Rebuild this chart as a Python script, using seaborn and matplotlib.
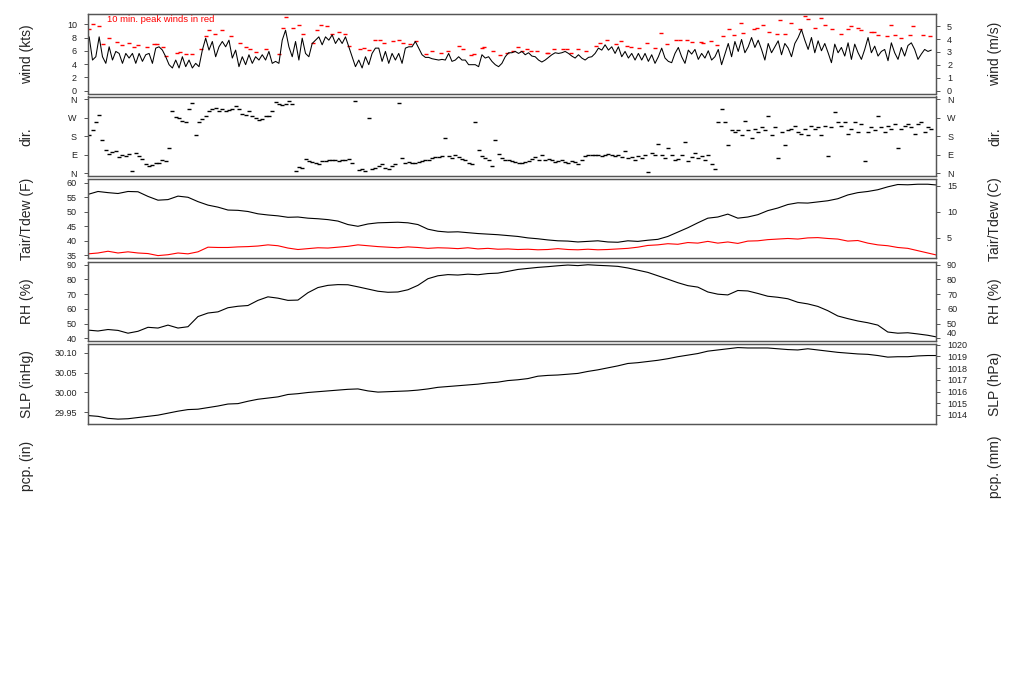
import numpy as np
import matplotlib
matplotlib.use("Agg")
from matplotlib import pyplot as plt
import seaborn as sns

sns.set_theme(style="white")
plt.rcParams["font.family"] = ["Liberation Sans", "DejaVu Sans"]

##############################################
# values, time in hours from start of record

wind_kts = [
    8.1, 4.6, 5.1, 8.1, 5.1, 4.1, 6.6, 4.6, 5.9, 5.6,
    4.1, 5.6, 4.9, 5.6, 4.1, 5.6, 4.4, 5.4, 5.6, 4.1,
    6.4, 6.6, 6.1, 5.1, 3.9, 3.4, 4.6, 3.4, 5.1, 3.6,
    4.6, 3.4, 4.1, 3.6, 6.1, 7.9, 6.1, 7.4, 5.1, 6.6,
    7.4, 6.6, 7.6, 4.9, 6.1, 3.6, 5.1, 3.9, 5.4, 4.1,
    5.1, 4.6, 5.4, 4.6, 5.9, 4.1, 4.4, 4.1, 7.6, 9.1,
    6.6, 5.1, 7.4, 4.6, 7.9, 5.6, 5.1, 7.1, 7.6, 8.1,
    6.9, 8.1, 7.6, 8.4, 7.1, 7.9, 7.1, 8.1, 6.6, 5.1,
    3.6, 4.6, 3.4, 5.1, 3.9, 5.6, 6.4,
    6.4, 4.4, 5.9, 4.1, 5.6, 4.6, 5.6, 4.1, 6.4, 6.6,
    6.6, 7.4, 6.4, 5.4, 5.0, 5.0, 4.8, 4.7, 4.6, 4.7,
    4.6, 5.6, 4.4, 4.6, 5.1, 4.6, 4.6, 3.9, 3.9, 3.9,
    3.6, 5.4, 4.9, 5.1, 4.4, 3.9, 3.6, 4.1, 5.1, 5.7,
    5.7, 5.9, 5.6, 5.9, 5.4, 5.7, 5.2, 5.1, 4.6, 4.3,
    4.6, 5.0, 5.4, 5.7, 5.6, 5.7, 5.9, 5.6, 5.2, 4.9,
    5.4, 4.9, 4.6, 5.0, 5.1, 5.6, 6.4, 6.1, 6.9, 6.1,
    6.6, 5.6, 6.6, 5.1, 5.9, 4.9, 5.6, 4.6, 5.6, 4.6,
    5.6, 4.4, 5.4, 4.1, 5.1,
    6.4, 4.9, 4.4, 4.2, 5.6, 6.5, 5.1, 4.1, 6.1, 5.5,
    6.2, 4.7, 5.6, 4.9, 6.0, 4.6, 5.1, 6.2, 3.9, 5.5,
    7.1, 5.1, 7.4, 5.9, 7.7, 5.7, 6.6, 8.0, 6.5, 7.6,
    6.2, 4.6, 7.1, 5.7, 6.6, 7.5, 5.4, 7.1, 6.4, 5.1,
    7.1, 8.0, 9.2, 7.6, 6.2, 8.0, 5.7, 7.5, 6.0, 7.1,
    5.7, 4.2, 7.0, 5.7, 6.5, 5.2, 7.2, 4.7, 7.0, 5.7,
    4.7, 6.2, 8.0, 5.7, 6.7, 5.2, 5.9, 6.2, 4.5, 7.2,
    5.7, 4.7, 6.5, 5.2, 6.8, 7.2, 6.2, 4.7, 5.5, 6.2,
    5.9, 6.1,
]

wind_dir = [
    188, 209, 248, 283, 161, 114, 93, 103, 109, 77,
    87, 82, 93, 11, 98, 82, 71, 43, 35, 40,
    51, 51, 62, 58, 122, 303, 272, 267, 256, 248,
    311, 343, 188, 248, 264, 280, 303, 311, 319, 303,
    311, 303, 308, 311, 330, 311, 288, 283, 303, 277,
    267, 261, 264, 280, 280, 303, 346, 340, 335, 340,
    351, 340, 11, 30, 27, 71, 58, 55, 51, 46,
    58, 58, 62, 62, 66, 58, 66, 66, 70, 51,
    351, 14, 19, 8, 267, 19, 24,
    35, 43, 27, 19, 35, 43, 343, 74, 51, 54,
    47, 51, 55, 58, 62, 66, 74, 77, 79, 82,
    169, 82, 74, 90, 77, 71, 62, 51, 43, 251,
    114, 82, 74, 66, 35, 161, 93, 74, 66, 62,
    58, 55, 51, 51, 55, 58, 71, 77, 66, 87,
    62, 69, 62, 55, 58, 62, 55, 51, 58, 54,
    46, 65, 82, 87, 87, 87, 90, 85, 90, 93,
    90, 82, 87, 77, 109, 74, 77, 66, 82, 74,
    87, 3, 98, 90, 141,
    90, 74, 122, 87, 66, 71, 90, 153, 58, 77,
    98, 74, 82, 66, 90, 43, 19, 248, 311, 248,
    137, 209, 201, 209, 185, 256, 209, 169, 216, 201,
    224, 209, 280, 185, 224, 74, 201, 137, 209, 216,
    232, 201, 193, 216, 185, 232, 216, 224, 185, 232,
    82, 224, 299, 248, 232, 248, 193, 216, 248, 201,
    240, 58, 201, 224, 209, 280, 224, 201, 232, 216,
    240, 122, 216, 232, 240, 224, 193, 240, 248, 201,
    224, 216,
]

gust_hours = [
    0.1, 0.9, 1.8, 2.5, 3.6, 4.9, 5.8, 6.9, 7.9, 8.5,
    10.0, 11.3, 11.8, 12.7, 13.2, 15.2, 15.7, 16.6, 17.7, 19.2,
    20.0, 20.5, 21.6, 22.8, 24.3, 25.8, 26.9, 27.6, 28.5, 30.2,
    32.4, 33.2, 33.6, 34.8, 35.9, 36.6, 38.2, 38.9, 39.6, 40.6,
    41.5, 42.6, 43.7, 44.4, 46.2, 46.9, 47.7, 48.8,
    49.7, 50.3, 51.8, 52.9, 53.5, 54.8, 55.7, 57.4, 58.5, 60.1,
    61.2, 63.1, 63.7, 65.2, 65.6, 67.0, 67.4, 68.8, 70.1, 71.2,
    72.2, 73.2, 73.8, 74.6, 75.3, 76.3, 78.0, 78.3, 79.2, 80.7,
    81.5, 82.1, 83.4, 84.6, 86.3, 87.1, 88.2, 89.8, 90.7, 91.7,
    92.3, 93.7, 95.1, 96.4,
    97.4, 98.4, 100.0, 100.6, 101.8, 102.7, 104.2, 104.6, 105.9, 106.9,
    107.9, 109.0, 109.8, 111.1, 111.4, 113.3, 113.7, 114.8, 115.8, 117.1,
    117.6, 118.6, 119.5, 121.0, 122.0, 122.4, 123.6, 124.7, 125.4, 126.6,
    128.0, 129.2, 129.8, 131.0, 131.5, 133.1, 133.7, 134.4, 135.9, 136.6,
    137.3, 138.3, 139.7, 140.3, 142.0, 143.1,
]

gust_kts = [
    9.3, 10.1, 9.7, 7.0, 8.0, 7.35, 6.85, 7.1, 6.5, 6.8,
    6.5, 6.95, 6.95, 6.5, 5.2, 5.7, 5.85, 5.5, 5.5, 6.2,
    8.2, 9.2, 8.5, 9.2, 8.2, 7.1, 6.6, 6.2, 5.85, 6.2,
    5.5, 9.5, 11.1, 9.5, 9.85, 8.5, 7.1, 9.2, 9.85, 9.7,
    8.5, 8.85, 8.5, 6.7, 6.2, 6.35, 6.1, 7.6,
    7.7, 7.1, 7.45, 7.7, 7.1, 7.0, 7.5, 5.5, 5.95, 5.7,
    6.0, 6.7, 6.2, 5.35, 5.5, 6.35, 6.5, 5.95, 5.35, 5.7,
    6.0, 6.5, 6.0, 6.2, 5.95, 6.0, 5.6, 5.7, 6.2, 6.2,
    6.2, 5.7, 6.2, 6.0, 6.7, 7.2, 7.6, 6.95, 7.5, 6.7,
    6.5, 6.35, 7.1, 6.35,
    8.75, 7.0, 7.55, 7.55, 7.55, 7.25, 7.25, 7.1, 7.45, 6.85,
    8.2, 9.35, 8.45, 10.25, 8.75, 9.35, 9.5, 9.85, 8.85, 8.6,
    10.7, 8.6, 10.25, 9.35, 11.2, 10.85, 9.5, 11.0, 9.85, 9.35,
    8.6, 9.35, 9.7, 9.5, 9.2, 8.85, 8.85, 8.45, 8.2, 9.85,
    8.45, 8.0, 8.35, 9.7, 8.45, 8.2,
]

# hourly-ish series, one value every 1.7 h
tair_f = [
    56.0, 57.0, 56.6, 56.3, 57.0, 56.9, 55.3, 54.0, 54.2, 55.4,
    55.0, 53.5, 52.3, 51.6, 50.6, 50.5, 50.1, 49.3, 48.9, 48.6,
    48.1, 48.2, 47.8, 47.6, 47.3, 46.8, 45.6, 45.0, 45.8, 46.2,
    46.3, 46.4, 46.2, 45.6, 44.0, 43.3, 43.0, 43.1, 42.8, 42.5,
    42.3, 42.1, 41.8, 41.5, 41.0, 40.7, 40.3, 40.0, 39.9, 39.6,
    39.8, 40.0, 39.6, 39.5, 40.0, 39.8, 40.2, 40.5, 41.5, 43.0,
    44.5, 46.2, 47.8, 48.2, 49.2, 47.8, 48.2, 49.0, 50.4, 51.3,
    52.5, 53.1, 53.0, 53.4, 53.8, 54.5, 55.8, 56.6, 57.0, 57.6,
    58.6, 59.4, 59.3, 59.5, 59.5, 59.2,
]

tdew_f = [
    35.5, 35.8, 36.4, 35.8, 36.2, 35.8, 35.6, 34.9, 35.2, 35.8,
    35.5, 36.2, 37.8, 37.7, 37.7, 37.9, 38.0, 38.2, 38.6, 38.3,
    37.5, 37.0, 37.3, 37.6, 37.5, 37.8, 38.1, 38.6, 38.3, 38.0,
    37.8, 37.6, 37.9, 37.7, 37.4, 37.6, 37.5, 37.3, 37.6, 37.2,
    37.4, 37.1, 37.2, 37.0, 37.1, 36.9, 37.0, 37.3, 37.0, 36.9,
    37.1, 36.9, 37.0, 37.2, 37.4, 37.8, 38.4, 38.6, 39.0, 38.8,
    39.4, 39.2, 39.8, 39.2, 39.6, 39.1, 39.9, 40.0, 40.4, 40.6,
    40.8, 40.6, 41.0, 41.1, 40.8, 40.6, 39.9, 40.1, 39.2, 38.6,
    38.3, 37.7, 37.4, 36.6, 35.8, 35.0,
]

rh_pct = [
    45.6, 45.0, 46.0, 45.4, 43.5, 44.8, 47.5, 47.0, 49.0, 47.0,
    47.9, 54.8, 57.2, 58.0, 60.8, 61.8, 62.3, 65.8, 68.2, 67.3,
    65.8, 66.0, 71.0, 74.5, 76.0, 76.5, 76.4, 75.0, 73.5, 72.0,
    71.3, 71.5, 73.0, 76.0, 80.5, 82.5, 83.3, 83.0, 83.6, 83.2,
    84.0, 84.3, 85.5, 86.8, 87.5, 88.2, 88.7, 89.3, 89.8, 89.4,
    90.0, 89.6, 89.3, 88.9, 87.8, 86.3, 84.8, 82.5, 80.2, 77.8,
    75.8, 74.8, 71.5, 70.0, 69.5, 72.5, 72.2, 70.5, 68.6, 67.9,
    66.9, 64.5, 63.4, 61.7, 58.8, 55.2, 53.4, 51.8, 50.6, 49.0,
    44.3, 43.5, 43.8, 43.0, 42.1, 40.8,
]

slp_inhg = [
    29.942, 29.940, 29.935, 29.933, 29.934, 29.937, 29.940, 29.943, 29.948, 29.953,
    29.957, 29.958, 29.962, 29.966, 29.971, 29.972, 29.978, 29.983, 29.986, 29.989,
    29.995, 29.997, 30.000, 30.002, 30.004, 30.006, 30.008, 30.009, 30.004, 30.001,
    30.002, 30.003, 30.004, 30.006, 30.009, 30.013, 30.015, 30.017, 30.019, 30.021,
    30.024, 30.026, 30.030, 30.032, 30.035, 30.041, 30.043, 30.044, 30.046, 30.048,
    30.053, 30.057, 30.062, 30.067, 30.073, 30.075, 30.078, 30.081, 30.085, 30.090,
    30.094, 30.098, 30.104, 30.107, 30.110, 30.113, 30.112, 30.112, 30.112, 30.110,
    30.108, 30.107, 30.110, 30.107, 30.104, 30.101, 30.099, 30.097, 30.096, 30.093,
    30.089, 30.090, 30.090, 30.092, 30.093, 30.093,
]

dir_ticks = [0, 90, 180, 270, 360]
dir_labels = ["N", "E", "S", "W", "N"]

##############################################

hours_total = 144.2
wind_hours = np.linspace(0.2, 143.4, len(wind_kts))
slow_hours = np.arange(len(tair_f)) * 1.7

KTS_PER_MS = 1.94384
INHG_PER_HPA = 0.02953

FRAME = "#555555"
TICKTXT = "#222222"


def style_panel(ax, frame=True):
    ax.set_xlim(0, hours_total)
    ax.set_xticks([])
    ax.set_xlabel("")
    for spine in ax.spines.values():
        spine.set_visible(frame)
        spine.set_color(FRAME)
        spine.set_linewidth(0.9)
    ax.tick_params(axis="y", left=frame, right=False, direction="out",
                   length=3, width=0.7, color=FRAME, labelsize=6.5,
                   labelcolor=TICKTXT, pad=5)
    ax.yaxis.label.set_fontsize(10)
    ax.yaxis.label.set_verticalalignment("center")
    ax.yaxis.set_label_coords(-0.0723, 0.5)


def add_right(ax, ylim, ticks, labels, ylabel, frame=True):
    rax = ax.twinx()
    rax.set_xlim(0, hours_total)
    rax.set_ylim(*ylim)
    rax.set_yticks(ticks)
    if labels is not None:
        rax.set_yticklabels(labels)
    for spine in rax.spines.values():
        spine.set_visible(frame)
        spine.set_color(FRAME)
        spine.set_linewidth(0.9)
    rax.tick_params(axis="y", right=frame, left=False, direction="out",
                    length=3, width=0.7, color=FRAME, labelsize=6.5,
                    labelcolor=TICKTXT, pad=5)
    rax.set_ylabel(ylabel, fontsize=10, rotation=90)
    rax.yaxis.label.set_verticalalignment("center")
    rax.yaxis.set_label_coords(1.0696, 0.5)
    rax.grid(False)
    return rax


fig = plt.figure(figsize=(10.24, 7), dpi=100)
left, width, height = 88 / 1024, 848 / 1024, 79.5 / 700
tops = [14, 96.5, 179, 261.5, 344, 426.5]
axes = [fig.add_axes([left, 1 - (t + 79.5) / 700, width, height]) for t in tops]

# wind speed + peak gusts
ax = axes[0]
sns.lineplot(x=wind_hours, y=wind_kts, ax=ax, color="black", linewidth=0.75)
sns.scatterplot(x=gust_hours, y=gust_kts, ax=ax, color="red", marker="_",
                s=9, linewidth=1.0)
ax.set_ylim(-0.45, 11.55)
ax.set_yticks(range(0, 11, 2))
ax.set_ylabel("wind (kts)")
style_panel(ax)
ax.text(0.0224, 0.925, "10 min. peak winds in red", transform=ax.transAxes,
        color="red", fontsize=6.8, va="center")
add_right(ax, (-0.45 / KTS_PER_MS, 11.55 / KTS_PER_MS), range(6), None, "wind (m/s)")

# wind direction
ax = axes[1]
sns.scatterplot(x=wind_hours, y=wind_dir, ax=ax, color="black", marker="_",
                s=8, linewidth=1.0)
ax.set_ylim(-14.4, 374.4)
ax.set_yticks(dir_ticks)
ax.set_yticklabels(dir_labels)
ax.set_ylabel("dir.")
style_panel(ax)
add_right(ax, (-14.4, 374.4), dir_ticks, dir_labels, "dir.")

# air temperature and dew point
ax = axes[2]
sns.lineplot(x=slow_hours, y=tair_f, ax=ax, color="black", linewidth=0.8)
sns.lineplot(x=slow_hours, y=tdew_f, ax=ax, color="red", linewidth=0.8)
ax.set_ylim(33.9, 61.3)
ax.set_yticks(range(35, 61, 5))
ax.set_ylabel("Tair/Tdew (F)")
style_panel(ax)
add_right(ax, ((33.9 - 32) / 1.8, (61.3 - 32) / 1.8), [5, 10, 15], None, "Tair/Tdew (C)")

# relative humidity
ax = axes[3]
sns.lineplot(x=slow_hours, y=rh_pct, ax=ax, color="black", linewidth=0.8)
ax.set_ylim(38.2, 92.2)
ax.set_yticks(range(40, 91, 10))
ax.set_ylabel("RH (%)")
style_panel(ax)
rh_right = add_right(ax, (38.2, 92.2), range(40, 91, 10), None, "RH (%)")
# lift the bottom label a touch so it clears the 1020 hPa label below
rh_right.get_yticklabels()[0].set_verticalalignment("bottom")

# sea level pressure
ax = axes[4]
sns.lineplot(x=slow_hours, y=slp_inhg, ax=ax, color="black", linewidth=0.8)
ax.set_ylim(29.922, 30.122)
slp_ticks = [29.95, 30.00, 30.05, 30.10]
ax.set_yticks(slp_ticks)
ax.set_yticklabels([f"{v:.2f}" for v in slp_ticks])
ax.set_ylabel("SLP (inHg)")
style_panel(ax)
add_right(ax, (29.922 / INHG_PER_HPA, 30.122 / INHG_PER_HPA),
          range(1014, 1021), None, "SLP (hPa)")

# precipitation: nothing recorded, only the labels are drawn
ax = axes[5]
ax.set_yticks([])
ax.set_ylabel("pcp. (in)")
style_panel(ax, frame=False)
add_right(ax, (0, 1), [], None, "pcp. (mm)", frame=False)

fig.savefig("out.png", dpi=100)
plt.close(fig)
